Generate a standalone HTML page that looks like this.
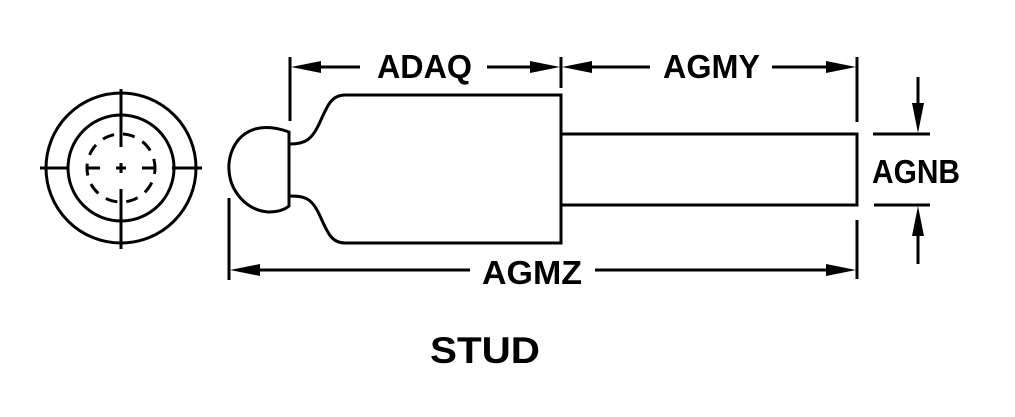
<!DOCTYPE html>
<html><head><meta charset="utf-8"><style>html,body{margin:0;padding:0;background:#fff}svg{display:block}</style></head>
<body>
<svg width="1015" height="417" viewBox="0 0 1015 417" xmlns="http://www.w3.org/2000/svg">
<g fill="none" stroke="#000" stroke-width="3">
  <circle cx="121" cy="168" r="75"/>
  <circle cx="121" cy="168" r="53"/>
  <circle cx="121" cy="168" r="34" stroke-dasharray="12 9" stroke-dashoffset="6"/>
  <line x1="40" y1="168" x2="69" y2="168"/>
  <line x1="87" y1="168" x2="100" y2="168"/>
  <line x1="142" y1="168" x2="155" y2="168"/>
  <line x1="172" y1="168" x2="202" y2="168"/>
  <line x1="121" y1="89" x2="121" y2="147"/>
  <line x1="121" y1="189" x2="121" y2="249"/>
  <line x1="116" y1="168" x2="126" y2="168"/>
  <line x1="121" y1="163" x2="121" y2="173"/>
  <path d="M289,132 Q270,125 255,129 C232,136 228,160 229,170 C230,190 245,210 268,212 Q282,212 289,206 Z"/>
  <path d="M290,144 C305,144 312,140 320,122 C328,104 332,95 345,95 L561,95 L561,243 L345,243 C332,243 328,234 320,216 C312,198 305,196 290,196"/>
  <path d="M561,134 L857,134 L857,205 L561,205"/>
  <line x1="290" y1="57" x2="290" y2="121"/>
  <line x1="561" y1="57" x2="561" y2="88"/>
  <line x1="857" y1="57" x2="857" y2="122"/>
  <line x1="857" y1="220" x2="857" y2="279"/>
  <line x1="229" y1="198" x2="229" y2="280"/>
  <line x1="873" y1="134" x2="930" y2="134"/>
  <line x1="874" y1="205" x2="930" y2="205"/>
  <line x1="300" y1="67" x2="360" y2="67"/>
  <line x1="487" y1="67" x2="550" y2="67"/>
  <line x1="572" y1="67" x2="650" y2="67"/>
  <line x1="772" y1="67" x2="846" y2="67"/>
  <line x1="240" y1="270" x2="470" y2="270"/>
  <line x1="595" y1="270" x2="846" y2="270"/>
  <line x1="918" y1="77" x2="918" y2="122"/>
  <line x1="918" y1="217" x2="918" y2="264"/>
</g>
<g fill="#000">
  <polygon points="291,67 321,61 321,73"/>
  <polygon points="560,67 530,61 530,73"/>
  <polygon points="562,67 592,61 592,73"/>
  <polygon points="856,67 826,61 826,73"/>
  <polygon points="230,270 260,264 260,276"/>
  <polygon points="856,270 826,264 826,276"/>
  <polygon points="918,133 912,103 924,103"/>
  <polygon points="918,206 912,236 924,236"/>
</g>
<g font-family="Liberation Sans, Arial, sans-serif" font-weight="bold" fill="#000">
  <text x="377" y="78" font-size="33" textLength="95" lengthAdjust="spacingAndGlyphs">ADAQ</text>
  <text x="663" y="78" font-size="33" textLength="97" lengthAdjust="spacingAndGlyphs">AGMY</text>
  <text x="482" y="284" font-size="33" textLength="100" lengthAdjust="spacingAndGlyphs">AGMZ</text>
  <text x="872" y="183" font-size="33" textLength="88" lengthAdjust="spacingAndGlyphs">AGNB</text>
  <text x="430" y="363" font-size="37" textLength="110" lengthAdjust="spacingAndGlyphs">STUD</text>
</g>
</svg>
</body></html>
